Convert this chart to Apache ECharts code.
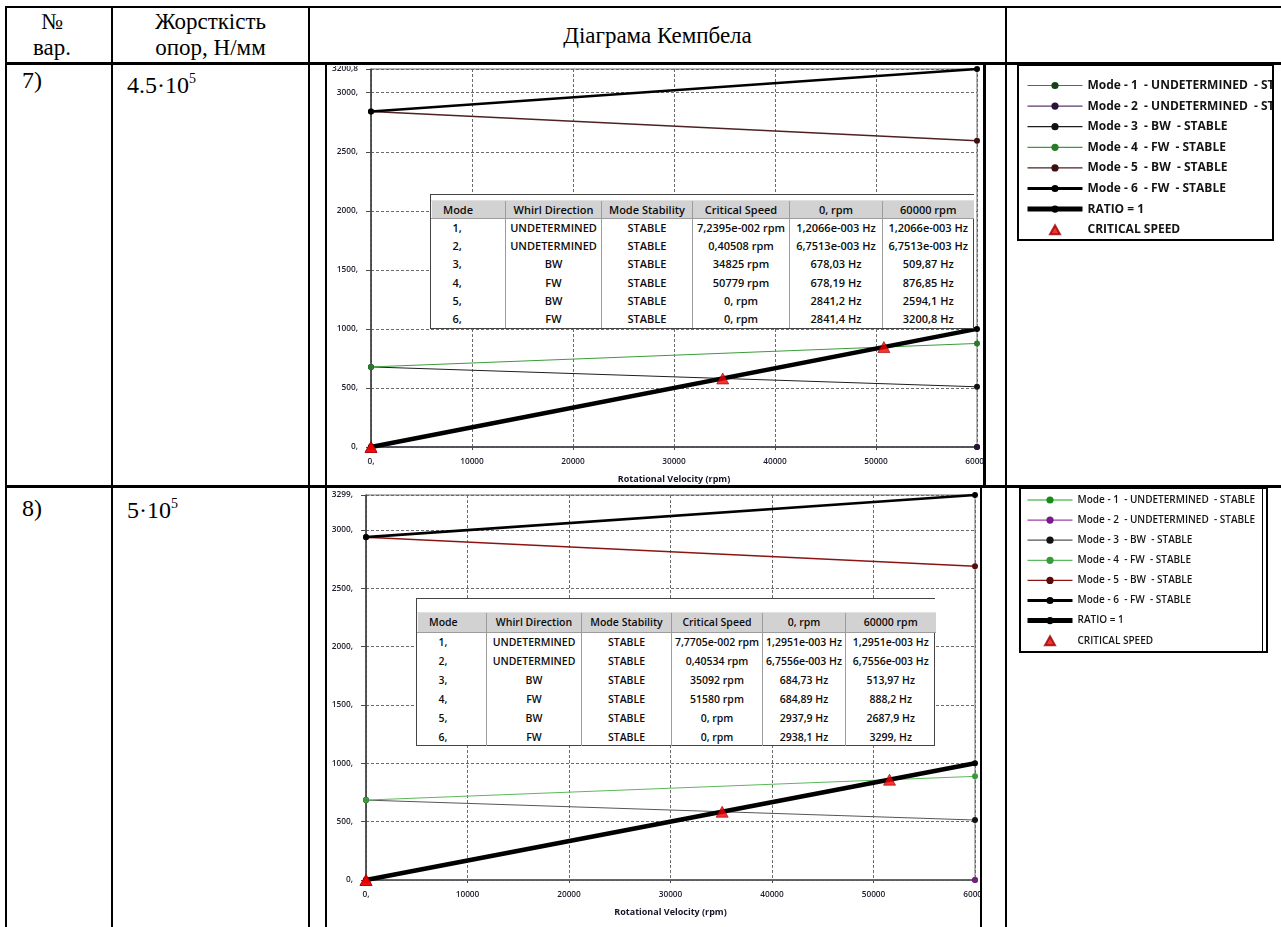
<!DOCTYPE html>
<html>
<head>
<meta charset="utf-8">
<title>Діаграма Кемпбела</title>
<script src="https://cdn.jsdelivr.net/npm/echarts@6.0.0/dist/echarts.min.js"></script>
<style>
  html, body { margin: 0; padding: 0; background: #fff; }
  body { position: relative; width: 1281px; height: 927px; overflow: hidden; font-family: "Liberation Serif", "Times New Roman", serif; color: #000; }
  .ln { position: absolute; background: #000; z-index: 5; }
  .txt { position: absolute; font-size: 23px; line-height: 26px; z-index: 5; white-space: nowrap; }
  .sup { position: relative; top: -10px; font-size: 14px; }
  .chart { position: absolute; z-index: 1; }
  .cover { position: absolute; background: #fff; z-index: 3; }
  .box { position: absolute; border: 2px solid #000; box-sizing: border-box; z-index: 4; pointer-events: none; }
  .modes { position: absolute; z-index: 2; background: #fff; border: 1px solid #444; box-sizing: border-box; }
  .modes table { border-collapse: collapse; table-layout: fixed; width: 100%; font-family: "Open Sans", sans-serif; font-weight: 600; font-size: 11px; color: #0c0c0c; }
  .modes th { background: #d2d2d2; font-weight: 600; padding: 0; border-left: 1px solid #f4f4f4; border-right: 1px solid #9c9c9c; border-bottom: 1px solid #9c9c9c; white-space: nowrap; }
  .modes td { padding: 0; text-align: center; border-right: 1px solid #9c9c9c; white-space: nowrap; }
  .modes th:first-child { text-align: left; padding-left: 11px; }
  .modes td:first-child { text-align: left; padding-left: 21px; }
  .modes th:last-child, .modes td:last-child { border-right: none; }
  .modes .cap td { background: #fff; border-right: none; border-bottom: 1px solid #e0e0e0; }
  #modes8 table { font-size: 10.5px; }
</style>
</head>
<body>

<!-- frame of the report table -->
<div class="ln" style="left:5px;top:6px;width:1276px;height:2px"></div>
<div class="ln" style="left:5px;top:62px;width:1276px;height:3px"></div>
<div class="ln" style="left:5px;top:485px;width:1276px;height:3px"></div>
<div class="ln" style="left:5px;top:6px;width:2px;height:921px"></div>
<div class="ln" style="left:111px;top:6px;width:2px;height:921px"></div>
<div class="ln" style="left:308px;top:6px;width:2px;height:921px"></div>
<div class="ln" style="left:1005px;top:6px;width:2px;height:921px"></div>

<!-- header cells -->
<div class="txt" style="left:7px;top:9px;width:90px;text-align:center">№<br>вар.</div>
<div class="txt" style="left:113px;top:9px;width:195px;text-align:center">Жорсткість<br>опор, Н/мм</div>
<div class="txt" style="left:310px;top:23px;width:695px;text-align:center">Діаграма Кемпбела</div>

<!-- row labels -->
<div class="txt" style="left:22px;top:67px;font-size:24px">7)</div>
<div class="txt" style="left:127px;top:72px;font-size:24px">4.5·10<span class="sup">5</span></div>
<div class="txt" style="left:22px;top:495px;font-size:24px">8)</div>
<div class="txt" style="left:127px;top:497px;font-size:24px">5·10<span class="sup">5</span></div>

<!-- variant 7 -->
<div id="chart7" class="chart" style="left:327px;top:66px;width:946px;height:418px"></div>
<div class="cover" style="left:985px;top:64px;width:32px;height:423px"></div>
<div class="ln" style="left:325px;top:64px;width:2px;height:423px"></div>
<div class="ln" style="left:983px;top:64px;width:3px;height:423px"></div>
<div class="box" style="left:1017px;top:64px;width:257px;height:177px"></div>
<div id="modes7" class="modes" style="left:430px;top:194px;width:544px;height:135px"></div>

<!-- variant 8 -->
<div id="chart8" class="chart" style="left:327px;top:490px;width:941px;height:437px"></div>
<div class="cover" style="left:982px;top:488px;width:37px;height:439px"></div>
<div class="ln" style="left:325px;top:487px;width:2px;height:440px"></div>
<div class="ln" style="left:980px;top:487px;width:2px;height:440px"></div>
<div class="box" style="left:1019px;top:487px;width:249px;height:166px"></div>
<div class="ln" style="left:1262px;top:489px;width:1px;height:162px"></div>
<div id="modes8" class="modes" style="left:416px;top:598px;width:519px;height:148px"></div>

<script>
// ---- data -------------------------------------------------------------
const modes = [1, 2, 3, 4, 5, 6];
const whirlDir = ['UNDETERMINED', 'UNDETERMINED', 'BW', 'FW', 'BW', 'FW'];
const stability = ['STABLE', 'STABLE', 'STABLE', 'STABLE', 'STABLE', 'STABLE'];
const speedsRpm = [0, 60000];
const xTickStep = 10000;
const yTickStep = 500;

// variant 7: stiffness 4.5e5 N/mm
const freqAt0_v7 = [0.0012066, 0.0067513, 678.03, 678.19, 2841.2, 2841.4];
const freqAtMax_v7 = [0.0012066, 0.0067513, 509.87, 876.85, 2594.1, 3200.8];
const critRpm_v7 = [0.072395, 0.40508, 34825, 50779, 0, 0];

// variant 8: stiffness 5e5 N/mm
const freqAt0_v8 = [0.0012951, 0.0067556, 684.73, 684.89, 2937.9, 2938.1];
const freqAtMax_v8 = [0.0012951, 0.0067556, 513.97, 888.2, 2687.9, 3299];
const critRpm_v8 = [0.077705, 0.40534, 35092, 51580, 0, 0];

// ---- number format (5 significant digits, decimal comma) ---------------
function fmtNum(v) {
  if (v !== 0 && Math.abs(v) < 0.1) {
    const parts = v.toExponential(4).split('e');
    const e = parseInt(parts[1], 10);
    return parts[0].replace('.', ',') + 'e' + (e < 0 ? '-' : '+') + String(Math.abs(e)).padStart(3, '0');
  }
  let s = v.toPrecision(5);
  if (s.indexOf('.') >= 0) s = s.replace(/0+$/, '');
  return s.replace('.', ',');
}

const modeName = i => 'Mode - ' + modes[i] + '  - ' + whirlDir[i] + '  - ' + stability[i];

// ---- mode summary tables ---------------------------------------------
function buildTable(id, f0, fMax, crit, cols, capH, headH, rowH) {
  let h = '<table><colgroup>' + cols.map(w => '<col style="width:' + w + 'px">').join('') + '</colgroup>';
  if (capH) h += '<tr class="cap" style="height:' + capH + 'px"><td colspan="6"></td></tr>';
  h += '<tr style="height:' + headH + 'px"><th>Mode</th><th>Whirl Direction</th><th>Mode Stability</th><th>Critical Speed</th>' +
       '<th>' + fmtNum(speedsRpm[0]) + ' rpm</th><th>' + fmtNum(speedsRpm[1]) + ' rpm</th></tr>';
  modes.forEach((m, i) => {
    h += '<tr style="height:' + rowH + 'px"><td>' + fmtNum(m) + '</td><td>' + whirlDir[i] + '</td><td>' + stability[i] +
         '</td><td>' + fmtNum(crit[i]) + ' rpm</td><td>' + fmtNum(f0[i]) + ' Hz</td><td>' + fmtNum(fMax[i]) + ' Hz</td></tr>';
  });
  h += '</table>';
  document.getElementById(id).innerHTML = h;
}

// ---- Campbell diagram ---------------------------------------------------
function buildChart(id, f0, fMax, crit, cfg) {
  const chart = echarts.init(document.getElementById(id), null, { renderer: 'canvas' });
  const yMax = Math.max(...fMax);
  const series = modes.map((m, i) => ({
    name: modeName(i),
    type: 'line',
    data: [[speedsRpm[0], f0[i]], [speedsRpm[1], fMax[i]]],
    symbol: 'circle',
    symbolSize: 6,
    showSymbol: true,
    lineStyle: { color: cfg.lineColors[i], width: cfg.lineWidths[i] },
    itemStyle: { color: cfg.dotColors[i] },
    z: 3,
    animation: false
  }));
  // RATIO = 1 : frequency in Hz equals rotational speed in rev/s
  series.push({
    name: 'RATIO = 1',
    type: 'line',
    data: speedsRpm.map(r => [r, r / 60]),
    symbol: 'circle',
    symbolSize: 6,
    lineStyle: { color: '#000', width: 4.5 },
    itemStyle: { color: '#000' },
    z: 4,
    animation: false
  });
  series.push({
    name: 'CRITICAL SPEED',
    type: 'scatter',
    data: crit.filter(c => c > 0).map(c => [c, c / 60]),
    symbol: 'triangle',
    symbolSize: [12, 11],
    symbolKeepAspect: true,
    itemStyle: { color: '#f20000', borderColor: '#900', borderWidth: 0.8 },
    z: 6,
    animation: false
  });

  const legendData = series.map((s, i) => {
    const d = { name: s.name };
    if (i === 5) d.lineStyle = { width: 3 };
    else if (i === 6) d.lineStyle = { width: 5 };
    else if (i < 5) d.lineStyle = { width: 1.2 };
    else d.icon = 'path://M5,0L10,9L0,9Z';
    return d;
  });

  const axisFont = { fontFamily: 'Open Sans', fontWeight: 600, fontSize: 8.3, color: '#1b1b2b' };
  const nameFont = { fontFamily: 'Open Sans', fontWeight: 700, fontSize: 9, color: '#15152a' };
  chart.setOption({
    animation: false,
    backgroundColor: 'transparent',
    grid: Object.assign({ show: true, borderColor: '#6e6e6e', borderWidth: 1, outerBoundsMode: 'none', containLabel: false }, cfg.grid),
    legend: {
      orient: 'vertical',
      left: cfg.legend.left,
      top: cfg.legend.top,
      padding: 0,
      itemWidth: cfg.legend.itemWidth,
      itemHeight: 9,
      itemGap: cfg.legend.itemGap,
      symbolKeepAspect: true,
      selectedMode: false,
      textStyle: { fontFamily: 'Open Sans', fontWeight: cfg.legend.fontWeight, fontSize: cfg.legend.fontSize, color: '#141414', lineHeight: cfg.legend.lineHeight },
      data: legendData
    },
    xAxis: {
      type: 'value',
      min: speedsRpm[0],
      max: speedsRpm[1],
      interval: xTickStep,
      name: 'Rotational Velocity (rpm)',
      nameLocation: 'middle',
      nameGap: 28,
      nameTextStyle: nameFont,
      axisLine: { show: true, lineStyle: { color: '#4a4a4a', width: 1.5 } },
      axisTick: { show: true, length: 3, lineStyle: { color: '#4a4a4a' } },
      axisLabel: Object.assign({ margin: 11, showMinLabel: true, showMaxLabel: true, formatter: v => fmtNum(v) }, axisFont),
      splitLine: { show: true, lineStyle: { color: '#6a6a6a', type: [3, 2], width: 1 } }
    },
    yAxis: {
      type: 'value',
      min: 0,
      max: yMax,
      interval: yTickStep,
      name: 'Frequency (Hz)',
      nameLocation: 'middle',
      nameRotate: 90,
      nameGap: cfg.yNameGap,
      nameTextStyle: nameFont,
      axisLine: { show: true, lineStyle: { color: '#3a3a3a', width: 1.5 } },
      axisTick: { show: true, length: 5, lineStyle: { color: '#4a4a4a' } },
      axisLabel: Object.assign({ margin: 13, showMinLabel: true, showMaxLabel: true, formatter: v => fmtNum(v) }, axisFont),
      splitLine: { show: true, lineStyle: { color: '#6a6a6a', type: [3, 2], width: 1 } }
    },
    series: series
  });
  return chart;
}

buildChart('chart7', freqAt0_v7, freqAtMax_v7, critRpm_v7, {
  grid: { left: 44, top: 3, width: 606, height: 378 },
  yNameGap: 36,
  lineColors: ['#3f7a3f', '#5a3a6a', '#1e1e1e', '#3a9c3a', '#4e2222', '#000'],
  dotColors: ['#164016', '#2a1238', '#111', '#2a7a2a', '#3a1010', '#000'],
  lineWidths: [1.2, 1.2, 1, 1, 1.5, 2.6],
  legend: { left: 698, top: 12.5, itemWidth: 55, itemGap: 6.6, fontSize: 12, fontWeight: 700, lineHeight: 14 }
});

buildChart('chart8', freqAt0_v8, freqAtMax_v8, critRpm_v8, {
  grid: { left: 39, top: 5, width: 609, height: 385 },
  yNameGap: 32,
  lineColors: ['#1e9e1e', '#a040a8', '#555', '#5cb85c', '#8b1515', '#000'],
  dotColors: ['#1a8a1a', '#7a1a8a', '#111', '#3a9a3a', '#5a0a0a', '#000'],
  lineWidths: [1.2, 1.2, 1, 1, 1.5, 2.6],
  legend: { left: 698, top: 3, itemWidth: 45, itemGap: 6.1, fontSize: 10, fontWeight: 600, lineHeight: 14 }
});

buildTable('modes7', freqAt0_v7, freqAtMax_v7, critRpm_v7, [74, 96, 91, 97, 93, 91], 5, 18, 18.3);
buildTable('modes8', freqAt0_v8, freqAtMax_v8, critRpm_v8, [69, 95, 90, 91, 83, 90], 13, 20, 19);
</script>
</body>
</html>
